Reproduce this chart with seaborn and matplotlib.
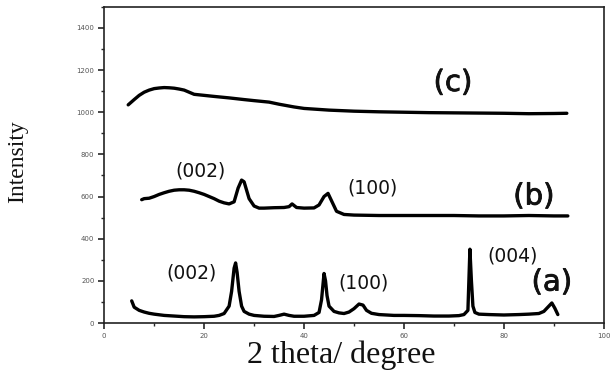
import matplotlib
matplotlib.use("Agg")
import matplotlib.pyplot as plt
import matplotlib.patheffects as pe
import seaborn as sns
import pandas as pd
from matplotlib.ticker import MultipleLocator

# ---- data ----
a_x = [5.5, 6, 7, 8, 9, 10, 12, 14, 16, 18, 20, 22, 23, 24, 25, 25.5, 26, 26.3, 26.6, 27, 27.5, 28, 29, 30,
       32, 34, 35, 36, 37, 38, 40, 42, 43, 43.5, 44, 44.3, 44.6, 45, 46, 47, 48, 49, 50, 51, 51.8, 52.5,
       53.5, 55, 58, 60, 63, 66, 69, 71, 72, 72.8, 73.2, 73.5, 73.8, 74.2, 75, 77, 80, 83, 85, 87, 88,
       89, 89.6, 90.2, 90.8]
a_y = [105, 75, 60, 52, 46, 42, 36, 33, 30, 29, 30, 32, 36, 45, 80, 150, 260, 285, 240, 150, 80, 55, 42, 36,
       32, 31, 36, 42, 36, 32, 32, 36, 50, 110, 235, 200, 130, 80, 55, 48, 45, 52, 68, 90, 85, 60,
       46, 40, 36, 36, 35, 33, 33, 35, 40, 60, 350, 200, 80, 50, 42, 40, 38, 40, 42, 45, 55,
       80, 95, 70, 40]

b_x = [7.5, 8, 9, 10, 11, 12, 13, 14, 15, 16, 17, 18, 19, 20, 21, 22, 23, 24, 25, 26, 26.8, 27.5, 28, 28.5,
       29, 30, 31, 32, 34, 36, 37, 37.6, 38.5, 40, 42, 43, 44, 44.8, 45.5, 46.5, 48, 50, 55, 60, 65, 70,
       75, 80, 85, 90, 92.8]
b_y = [585, 590, 592, 600, 610, 618, 625, 630, 632, 632, 630, 625, 618, 610, 600, 590, 578, 570, 565, 575, 640,
       678, 670, 630, 590, 555, 545, 545, 547, 548, 552, 565, 548, 545, 546, 560, 600, 615, 580, 530, 515,
       512, 510, 510, 510, 510, 508, 508, 510, 508, 508]

c_x = [4.8, 6, 7, 8, 9, 10, 11, 12, 13, 14, 15, 16, 17, 18, 20, 22, 25, 28, 30, 33, 35, 38, 40, 45, 50,
       55, 60, 65, 70, 75, 80, 85, 90, 92.6]
c_y = [1035, 1060, 1080, 1095, 1105, 1112, 1115, 1117, 1116, 1114, 1110, 1105, 1095, 1085, 1080, 1075, 1068,
       1060, 1055, 1048, 1038, 1025, 1018, 1010, 1005, 1002, 1000, 998, 997, 996, 995, 993, 994, 995]

series_names = ["(a)", "(b)", "(c)"]
label_text = ["(002)", "(100)", "(002)", "(100)", "(004)"]

df = pd.concat([
    pd.DataFrame({"x": a_x, "y": a_y, "s": series_names[0]}),
    pd.DataFrame({"x": b_x, "y": b_y, "s": series_names[1]}),
    pd.DataFrame({"x": c_x, "y": c_y, "s": series_names[2]}),
])

sns.set_style("ticks")
fig = plt.figure(figsize=(6.13, 3.8), dpi=100)
ax = fig.add_axes([0.170, 0.150, 0.815, 0.832])

for name in series_names:
    sub = df[df["s"] == name]
    sns.lineplot(data=sub, x="x", y="y", ax=ax, color="black", linewidth=2.4,
                 estimator=None, sort=False, legend=False)

ax.set_xlim(0, 100)
ax.set_ylim(0, 1500)
ax.set_xticks([0, 20, 40, 60, 80, 100])
ax.set_yticks([0, 200, 400, 600, 800, 1000, 1200, 1400])
ax.xaxis.set_minor_locator(MultipleLocator(10))
ax.yaxis.set_minor_locator(MultipleLocator(100))
ax.tick_params(axis="both", which="major", direction="out", length=4, width=1.2,
               labelsize=5, labelcolor="#555555", pad=3)
ax.tick_params(axis="both", which="minor", direction="out", length=2.5, width=1)
for sp in ax.spines.values():
    sp.set_visible(True)
    sp.set_linewidth(1.2)
    sp.set_color("#222222")

ax.set_xlabel("2 theta/ degree", fontsize=23, family="Liberation Serif", color="#111111")
ax.xaxis.set_label_coords(0.474, -0.055)
ax.set_ylabel("Intensity", fontsize=17, family="Liberation Serif", color="#111111")
ax.yaxis.set_label_coords(-0.152, 0.51)

thick = [pe.withStroke(linewidth=0.6, foreground="#111111")]
big = dict(fontsize=21, color="#111111", ha="center", va="center",
           family="DejaVu Sans", path_effects=thick)
ax.text(69.8, 1139, "(c)", **big)
ax.text(86, 600, "(b)", **big)
ax.text(89.6, 192, "(a)", **big)

small = dict(fontsize=13.5, color="#111111", ha="center", va="center", family="DejaVu Sans")
ax.text(19.2, 720, label_text[0], **small)
ax.text(53.8, 639, label_text[1], **small)
ax.text(17.5, 235, label_text[2], **small)
ax.text(52.0, 188, label_text[3], **small)
ax.text(81.8, 316, label_text[4], **small)

fig.savefig("out.png", dpi=100)
